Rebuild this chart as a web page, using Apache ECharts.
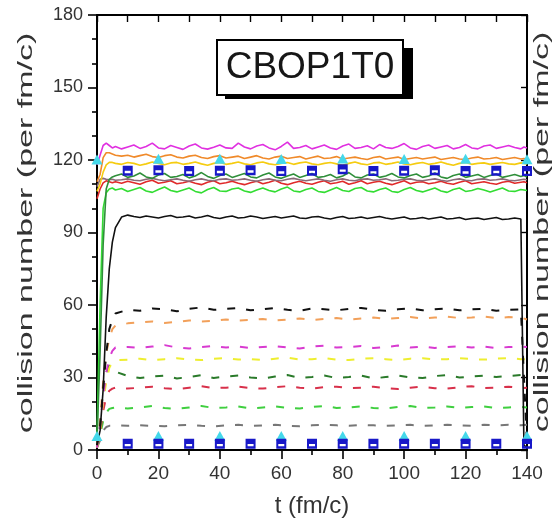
<!DOCTYPE html>
<html>
<head>
<meta charset="utf-8">
<script src="https://cdn.jsdelivr.net/npm/echarts@6/dist/echarts.min.js"></script>
<style>
html,body{margin:0;padding:0;background:#fff;}
#chart{width:552px;height:524px;}
</style>
</head>
<body>
<div id="chart"></div>
<script>
// ---- time grids (fm/c) ----
const tLine = [0,1,2,3,4,5,6,
  8,10,12,14,16,18,20,22,24,26,
  28,30,32,34,36,38,40,42,44,46,
  48,50,52,54,56,58,60,62,64,66,
  68,70,72,74,76,78,80,82,84,86,
  88,90,92,94,96,98,100,102,104,106,
  108,110,112,114,116,118,120,122,124,126,
  128,130,132,134,136,138,
  139,140];
const tDash = [0,1,2,3,4,5,6,
  10,14,18,22,26,30,34,38,42,46,
  50,54,58,62,66,70,74,78,82,86,
  90,94,98,102,106,110,114,118,122,126,
  130,134,138,
  140];
const tSquares = [10,20,30,40,50,60,70,80,90,100,110,120,130,140];
const tTriangles = [0,20,40,60,80,100,120,140];

// ---- solid curves (upper group) ----
const solidMagenta = [118,122,126,127,126,125,125.6,
  124.6,125.4,126.2,124.8,125.6,127,125,124.6,126,125.2,
  124.4,125.8,126.6,125,124.5,125.3,126.2,125,124.8,127,
  125.4,124.6,125.8,126.4,125,124.2,125.6,127.4,124.8,125.2,
  126,124.6,125.4,126.2,125,124.4,125.8,126.6,124.8,125.2,
  125.9,124.6,126.4,125.2,124.8,125.6,126.8,125,124.4,125.6,
  126.2,124.8,125.4,126,124.6,125.2,126.4,125,124.6,125.8,
  126.2,124.8,125.4,126,125.2,124.6,
  125.4,125];
const solidOrange = [111,114,121,123,123,122.5,122,
  121.6,122,121.2,121.8,122.4,121.4,121,121.8,122.2,121.2,
  120.8,121.6,122,121,120.6,121.4,121.8,120.8,121.2,121.6,
  120.6,121.2,121.8,120.8,120.4,121.2,121.6,120.6,121,121.4,
  120.4,121,121.6,120.6,120.8,121.4,120.4,120.8,121.2,120.6,
  120.2,121,121.4,120.4,120.8,121.2,120.2,120.6,121,120.4,
  120.8,121.2,120.2,120.6,121,120.4,120.2,120.8,121.2,120.4,
  120.6,121,120.2,120.6,121,120.4,
  120.6,120.4];
const solidYellow = [107,110,115,118,119,119,118.6,
  118.2,119,118.6,117.8,118.4,119.2,118.6,118,118.8,119,
  118.2,118.6,119.2,118.4,117.8,118.6,119,118.2,118.6,119.2,
  118.4,118,118.8,119.2,118.4,118,118.6,119,118.2,118.8,
  119.2,118.4,118,118.6,119,118.4,117.8,118.6,119.2,118.4,
  118,118.8,119,118.2,118.6,119.2,118.4,118,118.6,119,
  118.2,118.6,119.2,118.4,117.8,118.6,119,118.2,118.6,118.8,
  118.2,118.6,119,118.4,118.2,118.8,
  118.6,118.4];
const solidDarkGreen = [4,40,85,108,112,113,113.5,
  114.2,112.8,113.4,114.6,113,112.4,113.8,114.4,112.8,113.2,
  114,112.6,113.4,114.8,113.2,112.4,113.6,114.2,112.8,113.6,
  114.4,113,112.6,113.8,114.6,113,112.4,113.4,114.2,112.8,
  113.6,114.4,112.8,113.2,114,112.6,113.4,114.8,113,112.6,
  113.8,114.2,112.8,113.4,114.4,113,112.6,113.6,114.2,112.8,
  113.4,114.6,113,112.4,113.6,114.2,112.8,113.4,114,112.8,
  113.6,114.2,112.8,113.4,114,113.2,
  113.6,113];
const solidGray = [109,112,112.4,112,111.8,112,111.6,
  111.8,112.2,111.6,111.4,112,112.4,111.8,111.4,111.8,112.2,
  111.6,111.2,111.8,112.2,111.6,111.4,112,112.2,111.6,111.8,
  112.2,111.6,111.2,111.8,112.2,111.6,111.4,112,112.4,111.8,
  111.4,111.8,112.2,111.6,111.2,111.8,112.2,111.6,111.4,112,
  112.2,111.6,111.8,112.2,111.4,111.6,112,112.2,111.6,111.4,
  111.8,112.2,111.6,111.2,111.8,112.2,111.6,111.4,112,112.2,
  111.6,111.8,112.2,111.6,111.4,111.8,
  112,111.8];
const solidRed = [104,108,110.5,111.4,111,110.6,111,
  110.4,111.2,110.6,110,111,111.6,110.4,110.8,111.4,110.2,
  110.6,111.2,110.4,109.8,110.8,111.4,110.2,110.6,111.2,110.4,
  109.8,110.6,111.2,110.2,110.8,111.6,110.4,109.8,110.6,111.2,
  110.4,110,110.8,111.4,110.2,110.6,111.2,110,110.6,111.4,
  110.2,110.8,111.2,110.4,109.8,110.6,111.4,110.2,110.8,111,
  110.2,110.6,111.2,110.4,110,110.8,111.4,110.2,110.6,111,
  110.4,110,110.8,111.2,110.4,110.8,
  111,110.6];
const solidGreen = [6,60,100,106.5,108,108.4,107.6,
  108.2,107,107.8,108.6,107.2,106.6,107.8,108.8,107.4,106.8,
  107.6,108.4,107,106.4,107.8,108.6,107.2,107,108,108.4,
  107.2,106.6,107.6,108.4,107.4,106.8,108,108.8,107.2,106.8,
  107.8,108.4,107,106.6,107.6,108.6,107.4,107,108.2,108.6,
  107.2,106.8,107.8,108.4,107,106.6,107.8,108.6,107.4,106.8,
  107.6,108.4,107.2,106.6,107.8,108.4,107,107.4,108.2,107.6,
  106.8,107.6,108.4,107.2,107,107.8,
  107.6,107.4];
const solidBlack = [2,8,25,55,75,86,92,
  96.4,97.2,96.6,96.2,96.8,96.4,96,96.6,97,96.2,
  96.4,96.8,96,96.4,97,96.2,95.8,96.4,96.8,96,
  96.2,96.8,96.4,95.8,96.2,96.6,96,96.4,96.8,96,
  95.8,96.4,96.6,96,95.6,96.2,96.6,95.8,96,96.4,
  95.8,96.2,96.6,96,95.6,96,96.4,95.6,95.8,96.2,
  95.6,96,96.4,95.6,95.8,96.2,95.4,95.8,96,95.4,
  95.8,96.2,95.4,95.6,96,95.6,
  2,1];

// ---- dashed curves (lower group) ----
const dashBlack = [2,10,25,40,50,54,56.5,
  58,57.6,58.6,58.2,57.4,58.4,59,58,58.4,58.8,
  57.8,58.2,58.8,58,57.6,58.6,58.2,57.8,58.4,58.8,
  58,57.6,58.2,58.6,57.8,58.2,58.6,57.8,58.2,58.4,
  57.6,58,58.2,
  3];
const dashOrange = [2,12,28,40,46,50,51.5,
  52.4,52.8,53.2,52.6,53,53.6,53.2,53.4,54,53.6,
  53.8,54.2,53.6,54,54.4,53.8,54.2,54.6,54,54.4,
  54.8,54.2,54.6,55,54.4,54.8,55.2,54.6,54.8,55.2,
  54.6,55,54.8,
  54];
const dashMagenta = [1,10,22,32,38,41,42.4,
  42.6,42.2,42.8,43.4,42.4,42,42.6,43,42.4,42.8,
  42.2,42.6,43,42.4,42,42.8,43.2,42.4,42.6,43,
  42.2,42.6,43.2,42.4,42.8,42.2,42.6,43,42.4,42.8,
  42.2,42.6,42.8,
  42.6];
const dashYellow = [1,8,20,28,34,36.5,37.2,
  37.4,37.8,37.2,37.6,38,37.4,37.2,37.8,38,37.4,
  37.6,37.2,37.8,38.2,37.4,37.6,38,37.4,37.2,37.8,
  38,37.6,37.2,37.8,38,37.4,37.6,38,37.6,37.4,
  37.8,38,37.6,
  37.6];
const dashDarkGreen = [1,10,22,32,35,34,32.4,
  30.6,29.8,30.4,30.8,29.6,30.2,31,29.8,30.4,30.8,
  30,29.6,30.4,31,29.8,30.2,30.8,29.8,30.2,30.8,
  29.6,30.2,30.8,30,29.8,30.6,31,30,30.4,30.8,
  30.2,30.6,31,
  30.8];
const dashRed = [1,7,16,22,24.5,25.4,25.8,
  25.4,25.8,26.2,25.6,25.2,25.8,26.4,25.6,25.8,26.2,
  25.6,25.4,26,26.4,25.8,25.4,26,26.2,25.6,25.8,
  26.2,25.6,25.2,25.8,26.2,25.6,25.4,26,26.4,25.6,
  25.8,26.2,25.6,
  25.8];
const dashGreen = [1,6,12,15.5,17,17.4,17.6,
  17.2,17.6,18.2,17.4,17,17.6,18.2,17.4,17.6,18,
  17.2,17.6,18,17.4,17.2,17.8,18.2,17.4,17.6,18,
  17.4,17.2,17.8,18.2,17.4,17.6,18,17.4,17.8,18,
  17.4,17.6,17.8,
  17.6];
const dashGray = [1,4,8,9.5,10,10,10.2,
  10,10.2,10,9.8,10.2,10.4,10,9.8,10.2,10.4,
  10,10.2,10.4,10,9.8,10.2,10.4,10.2,10,10.4,
  10.2,10,10.2,10.4,10,10.2,10.4,10.2,10,10.4,
  10.2,10.4,10.2,
  10.4];

// ---- markers ----
const squaresHigh = [115.6,115.8,115.4,115.6,115.8,115.4,115.6,116.2,115.4,115.6,115.8,115.4,115.6,115.4];
const squaresLow = [2.6,2.6,2.6,2.6,2.6,2.6,2.6,2.6,2.6,2.6,2.6,2.6,2.6,2.6];
const trianglesHigh = [120.2,120.5,120.5,120.4,120.6,120.4,120.5,120.3];
const trianglesLow = [5.8,5.8,5.8,5.8,5.8,5.8,5.8,5.8];

const titleText = 'CBOP1T0';
const yTitle = 'collision number (per fm/c)';
const xTitle = 't (fm/c)';

function pairs(xs, ys) {
  const out = [];
  for (let i = 0; i < ys.length && i < xs.length; i++) out.push([xs[i], ys[i]]);
  return out;
}
function lineS(xs, ys, color, dashed, width) {
  return {
    type: 'line', data: pairs(xs, ys), showSymbol: false, symbol: 'none',
    lineStyle: { color: color, width: width, type: dashed ? [8, 11] : 'solid' },
    silent: true, z: 2
  };
}
const squarePath = 'path://M0,0H10V10H0Z M2,5.2V7.6H8V5.2Z';
function markS(xs, ys, symbol, color, size) {
  return {
    type: 'scatter', data: pairs(xs, ys), symbol: symbol, symbolSize: size,
    itemStyle: { color: color, opacity: 1 }, silent: true, z: 5
  };
}

const FONT = '"Liberation Sans", Arial, sans-serif';
const chart = echarts.init(document.getElementById('chart'), null, { renderer: 'canvas' });

chart.setOption({
  animation: false,
  backgroundColor: '#ffffff',
  grid: { left: 97, right: 25, top: 15, bottom: 74, containLabel: false },
  xAxis: [{
    type: 'value', min: 0, max: 140, interval: 20, position: 'bottom',
    axisLine: { show: true, onZero: false, lineStyle: { color: '#000', width: 2 } },
    axisTick: { show: true, inside: false, length: 9, lineStyle: { color: '#000', width: 1.6 } },
    minorTick: { show: true, splitNumber: 2, length: 5, lineStyle: { color: '#000', width: 1.6 } },
    axisLabel: { fontSize: 19, color: '#333', margin: 14, fontFamily: FONT },
    splitLine: { show: false },
    name: xTitle, nameLocation: 'middle', nameGap: 44,
    nameTextStyle: { fontSize: 24, color: '#333', fontFamily: FONT }
  }, {
    type: 'value', min: 0, max: 140, interval: 10, position: 'top',
    axisLine: { show: true, onZero: false, lineStyle: { color: '#000', width: 2 } },
    axisTick: { show: true, inside: true, length: 7, lineStyle: { color: '#000', width: 1.4 } },
    axisLabel: { show: false }, splitLine: { show: false }
  }],
  yAxis: [{
    type: 'value', min: 0, max: 180, interval: 30, position: 'left',
    axisLine: { show: true, onZero: false, lineStyle: { color: '#000', width: 2 } },
    axisTick: { show: true, inside: false, length: 9, lineStyle: { color: '#000', width: 1.6 } },
    minorTick: { show: true, splitNumber: 3, length: 5, lineStyle: { color: '#000', width: 1.6 } },
    axisLabel: { fontSize: 18, color: '#333', margin: 14, fontFamily: FONT },
    splitLine: { show: false }
  }, {
    type: 'value', min: 0, max: 180, interval: 30, position: 'right',
    axisLine: { show: true, onZero: false, lineStyle: { color: '#000', width: 2 } },
    axisTick: { show: true, inside: true, length: 6, lineStyle: { color: '#000', width: 1.4 } },
    axisLabel: { show: false }, splitLine: { show: false }
  }],
  series: [
    lineS(tDash, dashGray, '#777777', true, 2),
    lineS(tDash, dashGreen, '#3fcf3f', true, 2),
    lineS(tDash, dashRed, '#d8304a', true, 2),
    lineS(tDash, dashDarkGreen, '#2a7a2a', true, 2),
    lineS(tDash, dashYellow, '#eeee30', true, 2),
    lineS(tDash, dashMagenta, '#d83ad0', true, 2),
    lineS(tDash, dashOrange, '#f2a05a', true, 2),
    lineS(tDash, dashBlack, '#111111', true, 2),
    lineS(tLine, solidBlack, '#111111', false, 1.6),
    lineS(tLine, solidGreen, '#33dd33', false, 1.6),
    lineS(tLine, solidRed, '#e02a2a', false, 1.6),
    lineS(tLine, solidGray, '#8a6a78', false, 1.6),
    lineS(tLine, solidDarkGreen, '#2f8f3a', false, 1.6),
    lineS(tLine, solidYellow, '#f5cc10', false, 1.6),
    lineS(tLine, solidOrange, '#f08a2a', false, 1.6),
    lineS(tLine, solidMagenta, '#e030e0', false, 1.6),
    markS(tTriangles, trianglesHigh, 'triangle', '#44d8ea', [11, 10]),
    markS(tTriangles, trianglesLow, 'triangle', '#44d8ea', [11, 10]),
    markS(tSquares, squaresHigh, squarePath, '#1818c8', [10, 10]),
    markS(tSquares, squaresLow, squarePath, '#1818c8', [10, 10])
  ],
  graphic: [
    { type: 'rect', shape: { x: 225, y: 48, width: 188, height: 51 }, style: { fill: '#000' }, z: 10 },
    { type: 'rect', shape: { x: 217, y: 40, width: 186, height: 55 }, style: { fill: '#fff', stroke: '#000', lineWidth: 2 }, z: 11 },
    { type: 'text', x: 310, y: 68, z: 12,
      style: { text: titleText, font: '37px ' + FONT, fill: '#161616', textAlign: 'center', textVerticalAlign: 'middle' } },
    { type: 'text', x: 26, y: 233, rotation: Math.PI / 2, scaleX: 1.7, scaleY: 1, z: 12,
      style: { text: yTitle, font: '20px ' + FONT, fill: '#333', textAlign: 'center', textVerticalAlign: 'middle' } },
    { type: 'text', x: 542, y: 232, rotation: Math.PI / 2, scaleX: 1.7, scaleY: 1, z: 12,
      style: { text: yTitle, font: '20px ' + FONT, fill: '#333', textAlign: 'center', textVerticalAlign: 'middle' } }
  ]
});
</script>
</body>
</html>
